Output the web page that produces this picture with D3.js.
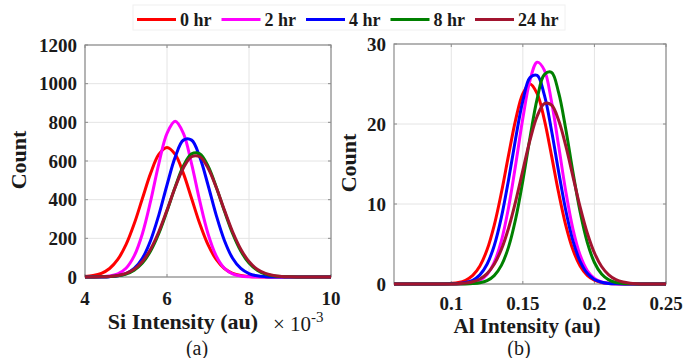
<!DOCTYPE html>
<html><head><meta charset="utf-8">
<script src="https://cdn.jsdelivr.net/npm/d3@7"></script>
<style>
body{margin:0;background:#fff}
svg{display:block}
text{font-family:"Liberation Serif","Times New Roman",serif;fill:#1a1a1a}
</style>
</head><body>
<svg id="c" width="684" height="358"></svg>
<script>
// ---------- data ----------
const seriesNames = ["0 hr", "2 hr", "4 hr", "8 hr", "24 hr"];
const seriesColors = ["#ff0000", "#ff00ff", "#0000ff", "#008000", "#a2142f"];

// (a) Si intensity, x in units of 1e-3
const siX = [4.0,4.2,4.4,4.6,4.8,5.0,5.2,5.4,5.6,5.8,6.0,6.2,6.4,6.6,6.8,7.0,7.2,7.4,7.6,7.8,8.0,8.2,8.4,8.6,8.8,9.0,9.2,9.4,9.6,9.8,10.0];
const si0hr  = [2.6,7.4,19,44,91,167,275,406,536,634,670,634,536,406,275,167,91,44,19,7.4,2.6,0.8,0.2,0,0,0,0,0,0,0,0];
const si2hr  = [0,0.3,1.2,4.8,16,45,109,224,392,585,743,805,743,585,392,224,109,45,16,4.8,1.2,0.3,0,0,0,0,0,0,0,0,0];
const si4hr  = [0,0.1,0.5,1.8,6,17.5,44,97,189,320,476,620,708,708,620,476,320,189,97,44,17.5,6,1.8,0.5,0.1,0,0,0,0,0,0];
const si8hr  = [0.05,0.2,0.7,2.1,5.9,15,35,72,134,225,341,466,574,637,637,574,466,341,225,134,72,35,15,5.9,2.1,0.7,0.2,0.05,0,0,0];
const si24hr = [0.1,0.3,1.0,2.9,7.7,18.5,40,80,144,234,346,464,564,622,622,564,464,346,234,144,80,40,18.5,7.7,2.9,1.0,0.3,0.1,0,0,0];

// (b) Al intensity
const alX = [0.06,0.065,0.07,0.075,0.08,0.085,0.09,0.095,0.1,0.105,0.11,0.115,0.12,0.125,0.13,0.135,0.14,0.145,0.15,0.155,0.16,0.165,0.17,0.175,0.18,0.185,0.19,0.195,0.2,0.205,0.21,0.215,0.22,0.225,0.23,0.235,0.24,0.245,0.25];
const al0hr  = [0,0,0,0,0,0,0,0.02,0.07,0.18,0.47,1.08,2.26,4.27,7.33,11.40,16.08,20.55,23.80,25.00,23.80,20.55,16.08,11.40,7.33,4.27,2.26,1.08,0.47,0.18,0.07,0.02,0,0,0,0,0,0,0];
const al2hr  = [0,0,0,0,0,0,0,0,0,0.01,0.05,0.16,0.47,1.20,2.70,5.39,9.53,14.93,20.72,25.47,27.73,26.74,22.83,17.27,11.57,6.87,3.61,1.68,0.69,0.25,0.08,0.02,0,0,0,0,0,0,0];
const al4hr  = [0,0,0,0,0,0,0,0,0.02,0.06,0.18,0.47,1.14,2.47,4.79,8.33,13.01,18.22,22.89,25.79,26.07,23.64,19.23,14.04,9.19,5.39,2.84,1.34,0.57,0.22,0.07,0.02,0,0,0,0,0,0,0];
const al8hr  = [0,0,0,0,0,0,0,0,0,0,0.01,0.05,0.15,0.42,1.05,2.33,4.61,8.16,12.92,18.29,23.13,26.17,26.46,23.92,19.34,13.97,9.03,5.22,2.69,1.24,0.51,0.19,0.06,0.02,0,0,0,0,0];
const al24hr = [0,0,0,0,0,0,0,0,0.01,0.04,0.12,0.28,0.63,1.30,2.47,4.32,6.97,10.36,14.21,17.98,20.97,22.55,22.37,20.46,17.26,13.43,9.64,6.38,3.89,2.19,1.14,0.54,0.24,0.10,0.04,0.01,0,0,0];

const siTicksX = [4, 6, 8, 10];
const siTicksY = [0, 200, 400, 600, 800, 1000, 1200];
const alTicksX = [0.1, 0.15, 0.2, 0.25];
const alTicksY = [0, 10, 20, 30];

// ---------- drawing ----------
const svg = d3.select("#c");
svg.append("rect").attr("width", 684).attr("height", 358).attr("fill", "#fff");

function panel(cfg) {
  const g = svg.append("g");
  const x = d3.scaleLinear().domain(cfg.xDomain).range([cfg.left, cfg.right]);
  const y = d3.scaleLinear().domain(cfg.yDomain).range([cfg.bottom, cfg.top]);

  // grid
  g.selectAll(".gx").data(cfg.xTicks).join("line")
    .attr("x1", d => x(d)).attr("x2", d => x(d))
    .attr("y1", cfg.top).attr("y2", cfg.bottom)
    .attr("stroke", "#e4e4e4").attr("stroke-width", 1);
  g.selectAll(".gy").data(cfg.yTicks).join("line")
    .attr("x1", cfg.left).attr("x2", cfg.right)
    .attr("y1", d => y(d)).attr("y2", d => y(d))
    .attr("stroke", "#e4e4e4").attr("stroke-width", 1);

  // box
  g.append("rect").attr("x", cfg.left).attr("y", cfg.top)
    .attr("width", cfg.right - cfg.left).attr("height", cfg.bottom - cfg.top)
    .attr("fill", "none").attr("stroke", "#8c8c8c").attr("stroke-width", 1.2);

  // inward ticks (all four sides)
  const tl = 3;
  cfg.xTicks.forEach(t => {
    g.append("line").attr("x1", x(t)).attr("x2", x(t)).attr("y1", cfg.bottom).attr("y2", cfg.bottom - tl).attr("stroke", "#8c8c8c");
    g.append("line").attr("x1", x(t)).attr("x2", x(t)).attr("y1", cfg.top).attr("y2", cfg.top + tl).attr("stroke", "#8c8c8c");
  });
  cfg.yTicks.forEach(t => {
    g.append("line").attr("x1", cfg.left).attr("x2", cfg.left + tl).attr("y1", y(t)).attr("y2", y(t)).attr("stroke", "#8c8c8c");
    g.append("line").attr("x1", cfg.right).attr("x2", cfg.right - tl).attr("y1", y(t)).attr("y2", y(t)).attr("stroke", "#8c8c8c");
  });

  // tick labels
  g.selectAll(".tx").data(cfg.xTicks).join("text")
    .attr("x", d => x(d)).attr("y", cfg.xLabelBase)
    .attr("text-anchor", "middle").attr("font-weight", "bold").attr("font-size", 19)
    .text(d => String(d));
  g.selectAll(".ty").data(cfg.yTicks).join("text")
    .attr("x", cfg.left - 8).attr("y", d => y(d)).attr("dy", "0.35em")
    .attr("text-anchor", "end").attr("font-weight", "bold").attr("font-size", 19)
    .text(d => String(d));

  // curves
  const line = d3.line()
    .x((d, i) => x(cfg.xs[i]))
    .y(d => y(d))
    .curve(d3.curveCatmullRom);
  cfg.series.forEach((s, k) => {
    g.append("path").attr("d", line(s))
      .attr("fill", "none").attr("stroke", seriesColors[k])
      .attr("stroke-width", 3).attr("stroke-linejoin", "round");
  });

  // y label
  g.append("text")
    .attr("transform", `translate(${cfg.yLabelX},${(cfg.top + cfg.bottom) / 2 - 1}) rotate(-90)`)
    .attr("text-anchor", "middle").attr("dy", "0.35em")
    .attr("font-weight", "bold").attr("font-size", 22).text("Count");

  // x label
  g.append("text").attr("x", cfg.xTitleX).attr("y", cfg.xTitleBase)
    .attr("text-anchor", "middle").attr("font-weight", "bold").attr("font-size", cfg.xTitleSize)
    .text(cfg.xTitle);
  // sub caption
  g.append("text").attr("x", cfg.capX).attr("y", 355)
    .attr("text-anchor", "middle").attr("font-size", 20).text(cfg.caption);
  return {x, y};
}

panel({
  xDomain: [4, 10], yDomain: [0, 1200],
  left: 85, right: 331, top: 45, bottom: 277,
  xTicks: siTicksX, yTicks: siTicksY,
  xs: siX, series: [si0hr, si2hr, si4hr, si8hr, si24hr],
  xLabelBase: 305, yLabelX: 18,
  xTitle: "Si Intensity (au)", xTitleX: 183, xTitleBase: 329, xTitleSize: 22,
  caption: "(a)", capX: 197
});

// exponent label ×10^-3
const ex = svg.append("text").attr("x", 273).attr("y", 331).attr("font-size", 21);
ex.append("tspan").text("\u00d7 10");
ex.append("tspan").attr("font-size", 15).attr("dy", -9).text("-3");

panel({
  xDomain: [0.06, 0.25], yDomain: [0, 30],
  left: 394, right: 666, top: 44, bottom: 284,
  xTicks: alTicksX, yTicks: alTicksY,
  xs: alX, series: [al0hr, al2hr, al4hr, al8hr, al24hr],
  xLabelBase: 310, yLabelX: 348,
  xTitle: "Al Intensity (au)", xTitleX: 527, xTitleBase: 333, xTitleSize: 21,
  caption: "(b)", capX: 519
});

// legend
const lg = svg.append("g");
lg.append("rect").attr("x", 133).attr("y", 5).attr("width", 432).attr("height", 25)
  .attr("fill", "#fff").attr("stroke", "#f0f0f0").attr("stroke-width", 1);
let lx = 137;
seriesNames.forEach((name, k) => {
  lg.append("line").attr("x1", lx).attr("x2", lx + 39).attr("y1", 19.5).attr("y2", 19.5)
    .attr("stroke", seriesColors[k]).attr("stroke-width", 3);
  const t = lg.append("text").attr("x", lx + 43).attr("y", 26)
    .attr("font-weight", "bold").attr("font-size", 18).text(name);
  lx = lx + 43 + t.node().getComputedTextLength() + 10;
});
</script>
</body></html>
